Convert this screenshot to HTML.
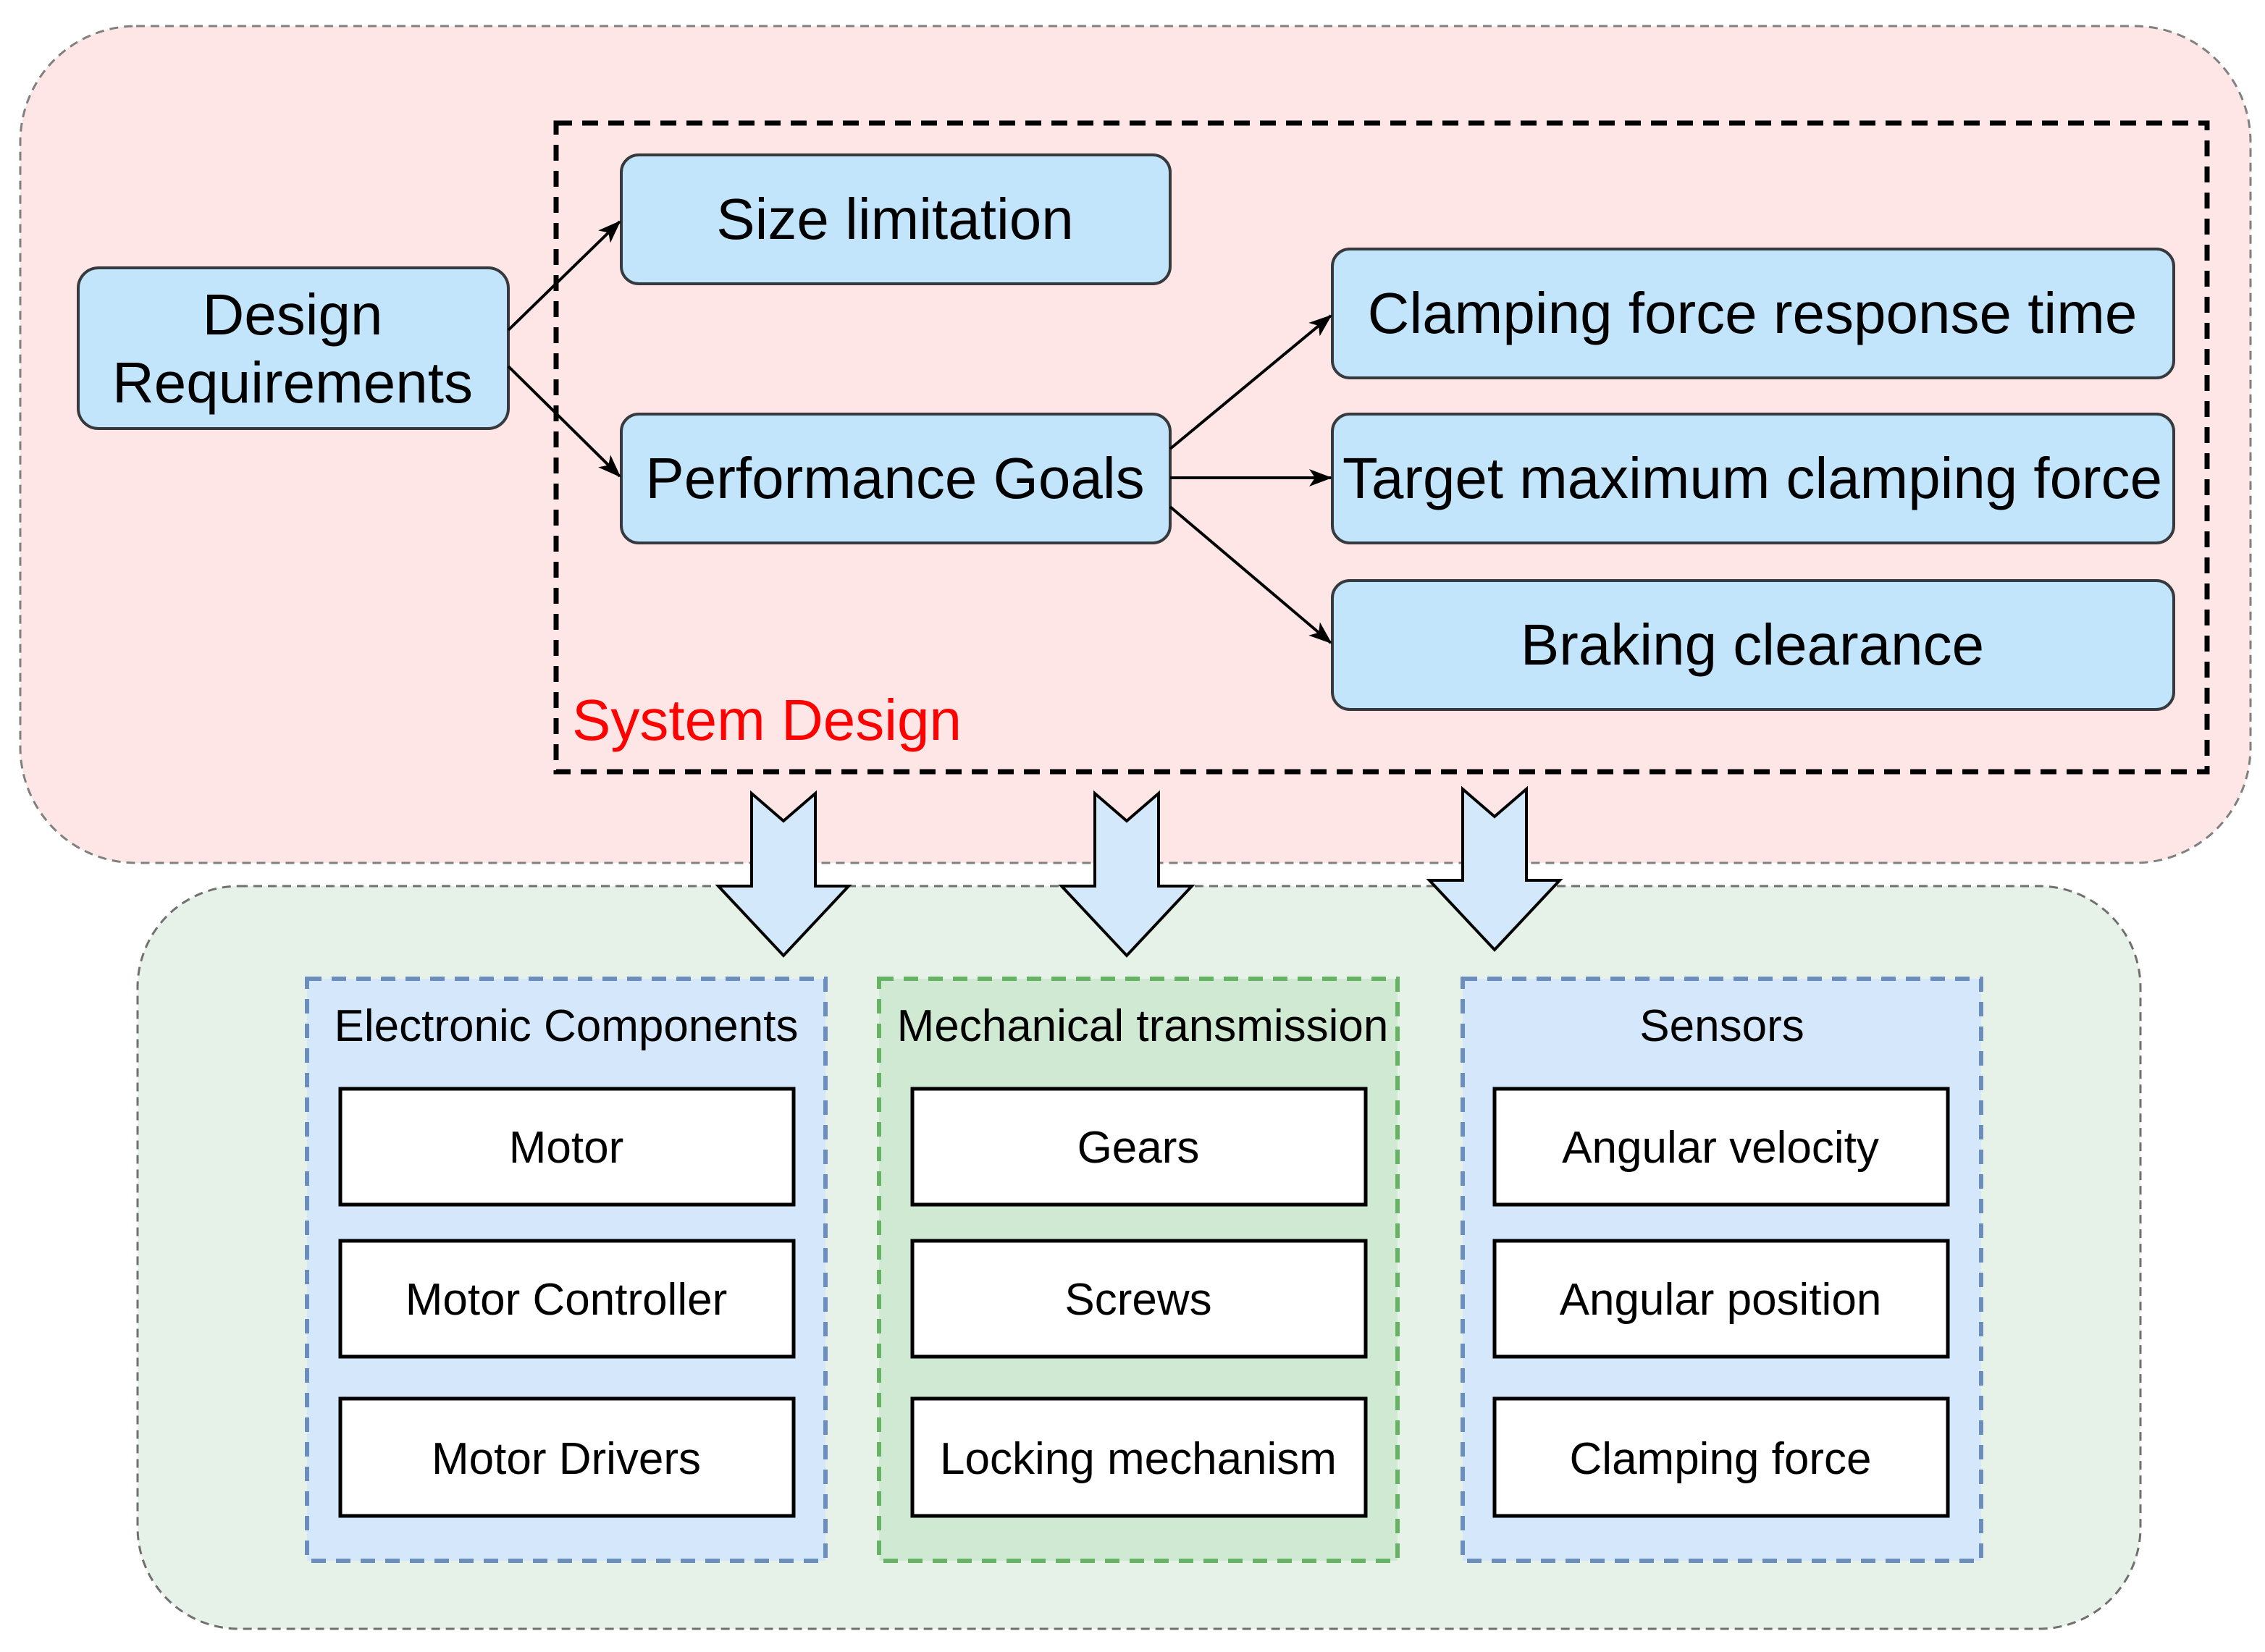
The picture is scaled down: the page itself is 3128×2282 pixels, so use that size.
<!DOCTYPE html>
<html><head><meta charset="utf-8"><style>html,body{margin:0;padding:0;background:#fff}svg{display:block}</style></head>
<body>
<svg width="3128" height="2282" viewBox="0 0 1564 1141" xmlns="http://www.w3.org/2000/svg" font-family="Liberation Sans, Arial, sans-serif">
<defs>
<marker id="ah" markerWidth="16" markerHeight="12" refX="15" refY="6" orient="auto" markerUnits="userSpaceOnUse">
<path d="M0,0 L16,6 L0,12 L4,6 Z" fill="#000"/>
</marker>
</defs>
<rect x="14" y="18" width="1540" height="578" rx="80" fill="#ffe6e6" stroke="#808080" stroke-width="1.5" stroke-dasharray="6,4"/>
<rect x="95" y="612" width="1383" height="513" rx="70" fill="#e6f2e8" stroke="#707070" stroke-width="1.5" stroke-dasharray="6,4"/>
<rect x="384" y="85" width="1140" height="448" fill="none" stroke="#000" stroke-width="3.5" stroke-dasharray="11,7"/>
<g fill="#c2e5fc" stroke="#36393d" stroke-width="2">
<rect x="54" y="185" width="297" height="111" rx="14"/>
<rect x="429" y="107" width="379" height="89" rx="12"/>
<rect x="429" y="286" width="379" height="89" rx="12"/>
<rect x="920" y="172" width="581" height="89" rx="12"/>
<rect x="920" y="286" width="581" height="89" rx="12"/>
<rect x="920" y="401" width="581" height="89" rx="12"/>
</g>
<g stroke="#000" stroke-width="2" marker-end="url(#ah)">
<line x1="351" y1="228" x2="428" y2="153"/>
<line x1="351" y1="253" x2="428" y2="329"/>
<line x1="808" y1="310" x2="919" y2="218"/>
<line x1="808" y1="330" x2="919" y2="330"/>
<line x1="808" y1="350" x2="919" y2="444"/>
</g>
<g font-size="40" fill="#000" text-anchor="middle">
<text x="202" y="231">Design</text>
<text x="202" y="278">Requirements</text>
<text x="618" y="165">Size limitation</text>
<text x="618" y="344">Performance Goals</text>
<text x="1210" y="230">Clamping force response time</text>
<text x="1210" y="344" textLength="566" lengthAdjust="spacingAndGlyphs">Target maximum clamping force</text>
<text x="1210" y="459">Braking clearance</text>
</g>
<text x="395" y="511" font-size="40" fill="#ff0000">System Design</text>
<g fill="#d4e8fc" stroke="#000" stroke-width="2">
<path d="M519,548 L541,567 L563,548 L563,612 L586,612 L541,660 L496,612 L519,612 Z"/>
<path d="M756,548 L778,567 L800,548 L800,612 L823,612 L778,660 L733,612 L756,612 Z"/>
<path d="M1010,545 L1032,564 L1054,545 L1054,608 L1077,608 L1032,656 L987,608 L1010,608 Z"/>
</g>
<rect x="212" y="676" width="358" height="402" fill="#d4e7fb" stroke="#6c8ebf" stroke-width="3" stroke-dasharray="10,7"/>
<rect x="607" y="676" width="358" height="402" fill="#d0e9d2" stroke="#66b363" stroke-width="3" stroke-dasharray="10,7"/>
<rect x="1010" y="676" width="358" height="402" fill="#d4e7fb" stroke="#6c8ebf" stroke-width="3" stroke-dasharray="10,7"/>
<g fill="#fff" stroke="#000" stroke-width="2.5">
<rect x="235" y="752" width="313" height="80"/>
<rect x="235" y="857" width="313" height="80"/>
<rect x="235" y="966" width="313" height="81"/>
<rect x="630" y="752" width="313" height="80"/>
<rect x="630" y="857" width="313" height="80"/>
<rect x="630" y="966" width="313" height="81"/>
<rect x="1032" y="752" width="313" height="80"/>
<rect x="1032" y="857" width="313" height="80"/>
<rect x="1032" y="966" width="313" height="81"/>
</g>
<g font-size="31" fill="#000" text-anchor="middle">
<text x="391" y="719">Electronic Components</text>
<text x="789" y="719">Mechanical transmission</text>
<text x="1189" y="719">Sensors</text>
<text x="391" y="803">Motor</text>
<text x="391" y="908">Motor Controller</text>
<text x="391" y="1018">Motor Drivers</text>
<text x="786" y="803">Gears</text>
<text x="786" y="908">Screws</text>
<text x="786" y="1018">Locking mechanism</text>
<text x="1188" y="803">Angular velocity</text>
<text x="1188" y="908">Angular position</text>
<text x="1188" y="1018">Clamping force</text>
</g>
</svg>
</body></html>
